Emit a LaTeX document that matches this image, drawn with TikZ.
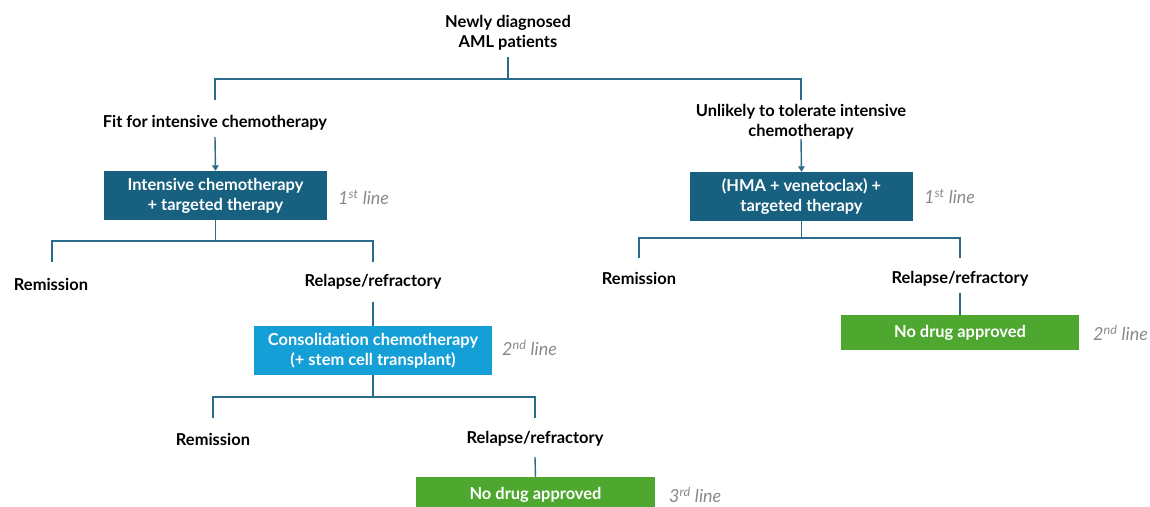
\documentclass[tikz,border=0pt]{standalone}
\usepackage{fontspec}
\setmainfont{Lato}[RawFeature={-liga;-clig;-dlig;-calt}]
\usetikzlibrary{arrows.meta}
\definecolor{dblue}{HTML}{17607F}
\definecolor{lblue}{HTML}{149FD7}
\definecolor{ngreen}{HTML}{4EA72E}
\definecolor{linec}{HTML}{2A6A8A}
\definecolor{graytxt}{HTML}{8A8A8A}
\begin{document}
\begin{tikzpicture}[x=1bp,y=-1bp,
  lbl/.style={font=\fontsize{16.5}{20}\selectfont\bfseries, align=center, inner sep=0pt, text=black},
  box/.style={fill=#1, text=white, font=\fontsize{16.5}{20}\selectfont\bfseries, align=center, inner sep=0pt},
  ln/.style={draw=linec, line width=1.4bp},
  arr/.style={ln, -{Triangle[length=5.5bp,width=6.5bp]}},
  tag/.style={font=\fontsize{18}{18}\selectfont\itshape, text=graytxt, anchor=west, inner sep=0pt}]
\useasboundingbox (0,0) rectangle (1150,507);

% texts
\node[lbl] (title) at (508,33) {Newly diagnosed\\AML patients};
\node[lbl] (fit) at (215,123) {Fit for intensive chemotherapy};
\node[lbl] (unl) at (801,122) {Unlikely to tolerate intensive\\chemotherapy};

% boxes
\node[box=dblue, minimum width=223bp, minimum height=49bp] (b1) at (215.5,195.5) {Intensive chemotherapy\\+ targeted therapy};
\node[box=dblue, minimum width=223bp, minimum height=49bp] (b2) at (801.5,196.5) {(HMA + venetoclax) +\\targeted therapy};
\node[box=lblue, minimum width=238bp, minimum height=49bp] (b3) at (373,350.5) {Consolidation chemotherapy\\(+ stem cell transplant)};
\node[box=ngreen, minimum width=238bp, minimum height=35bp] (g1) at (960,332.5) {No drug approved};
\node[box=ngreen, minimum width=239bp, minimum height=35bp] (g2) at (535.5,494.5) {No drug approved};

% tags
\node[tag] (t1) at (338,197) {1\textsuperscript{st} line};
\node[tag] (t2) at (924,196) {1\textsuperscript{st} line};
\node[tag] (t3) at (502,348) {2\textsuperscript{nd} line};
\node[tag] (t4) at (1093,333) {2\textsuperscript{nd} line};
\node[tag] (t5) at (669,495) {3\textsuperscript{rd} line};

% outcome labels
\node[lbl] (rem1) at (51,284) {Remission};
\node[lbl] (rel1) at (373,282) {Relapse/refractory};
\node[lbl] (rem2) at (639,278) {Remission};
\node[lbl] (rel2) at (960,279) {Relapse/refractory};
\node[lbl] (rem3) at (213,439) {Remission};
\node[lbl] (rel3) at (535,439) {Relapse/refractory};

% junction coordinates
\coordinate (ts) at (508,57);
\coordinate (j0) at (508,79);
\coordinate (fitin) at (215,100);
\coordinate (unlin) at (801,100);
\coordinate (fitout) at (215,137);
\coordinate (unlout) at (801,139);
\coordinate (rem1in) at (52,262);
\coordinate (rel1in) at (373,262);
\coordinate (rel1out) at (373,302);
\coordinate (rem2in) at (639,258);
\coordinate (rel2in) at (960,258);
\coordinate (rel2out) at (960,293);
\coordinate (rem3in) at (213,418);
\coordinate (rel3in) at (535,418);
\coordinate (rel3out) at (535,457);

% connectors
\draw[ln] (ts) -- (j0);
\draw[ln] (fitin) |- (j0) -| (unlin);
\draw[arr] (fitout) -- (b1.north);
\draw[arr] (unlout) -- (b2.north);

\draw[ln] (b1.south) -- (b1.south |- 0,241);
\draw[ln] (rem1in) |- (b1.south |- 0,241) -| (rel1in);
\draw[ln] (rel1out) -- (b3.north);

\draw[ln] (b2.south) -- (b2.south |- 0,238);
\draw[ln] (rem2in) |- (b2.south |- 0,238) -| (rel2in);
\draw[ln] (rel2out) -- (g1.north);

\draw[ln] (b3.south) -- (b3.south |- 0,397);
\draw[ln] (rem3in) |- (b3.south |- 0,397) -| (rel3in);
\draw[ln] (rel3out) -- (g2.north);
\end{tikzpicture}
\end{document}
